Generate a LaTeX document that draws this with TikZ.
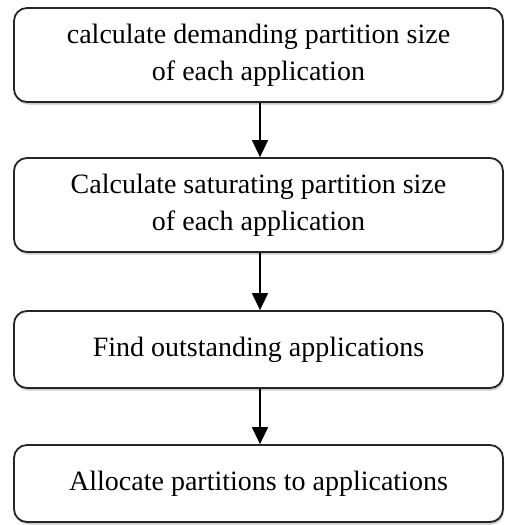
\documentclass[tikz,border=0pt]{standalone}
\usepackage{fontspec}
\setmainfont{Liberation Serif}
\usetikzlibrary{arrows.meta,shadows}
\begin{document}
\begin{tikzpicture}[x=1pt,y=1pt,
  stepbox/.style={draw=black!85, line width=1.8pt, rounded corners=13pt, fill=white,
    minimum width=489pt, align=center, inner sep=0pt,
    font=\fontsize{28}{37}\selectfont,
    drop shadow={shadow xshift=1pt, shadow yshift=-2.5pt, opacity=0.35, fill=black!60}},
  flow/.style={line width=1.5pt, -{Triangle[length=17pt,width=16pt]}}]
\useasboundingbox (0,0) rectangle (505,-525);
\node[stepbox, minimum height=94pt] (a) at (258.5,-55) {calculate demanding partition size\\of each application};
\node[stepbox, minimum height=94pt] (b) at (258.5,-205) {Calculate saturating partition size\\of each application};
\node[stepbox, minimum height=77pt] (c) at (258.5,-349.5) {Find outstanding applications};
\node[stepbox, minimum height=77pt] (d) at (258.5,-483.5) {Allocate partitions to applications};
\draw[flow] (a.south -| 260,0) -- (b.north -| 260,0);
\draw[flow] (b.south -| 260,0) -- (c.north -| 260,0);
\draw[flow] (c.south -| 260,0) -- (d.north -| 260,0);
\end{tikzpicture}
\end{document}
